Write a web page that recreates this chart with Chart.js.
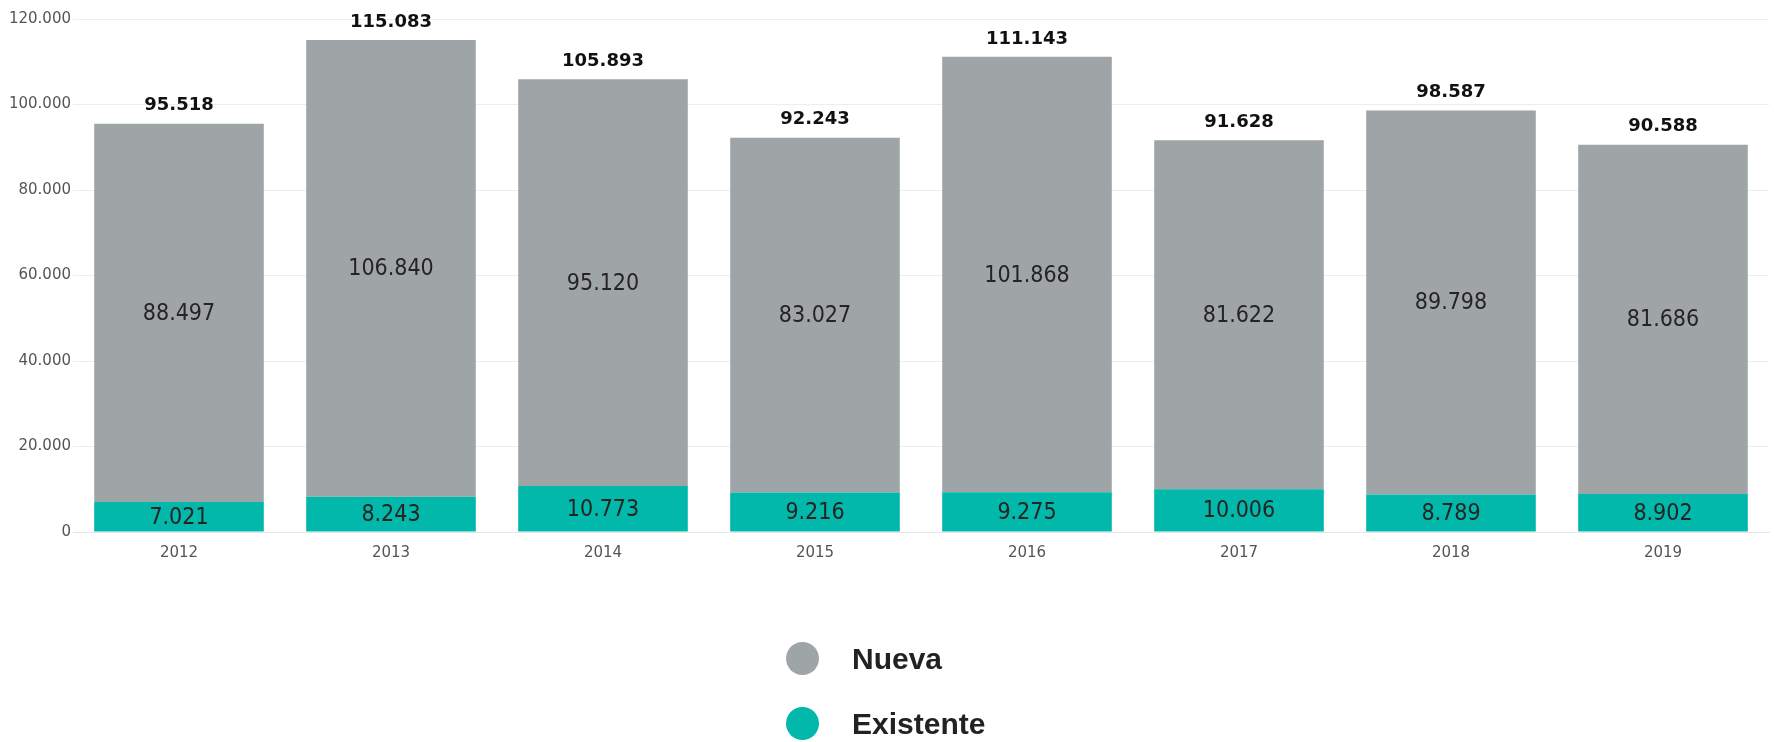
<!DOCTYPE html>
<html>
<head>
<meta charset="utf-8">
<script src="https://cdn.jsdelivr.net/npm/chart.js@4"></script>
<style>
  body { margin: 0; background: #fff; }
  #wrap { position: relative; width: 1774px; height: 742px; }
  #legend { position: absolute; left: 786px; top: 626px; font-family: "Liberation Sans", Arial, sans-serif; }
  .item { display: flex; align-items: center; height: 65px; }
  .dot { width: 33px; height: 33px; border-radius: 50%; margin-right: 33px; }
  .txt { font-weight: bold; font-size: 30px; color: #222; }
</style>
</head>
<body>
<div id="wrap">
  <canvas id="chart" width="1774" height="742"></canvas>
  <div id="legend"></div>
</div>
<script>
const years = ['2012', '2013', '2014', '2015', '2016', '2017', '2018', '2019']
const nueva = [88497, 106840, 95120, 83027, 101868, 81622, 89798, 81686]
const existente = [7021, 8243, 10773, 9216, 9275, 10006, 8789, 8902]
const totals = [95518, 115083, 105893, 92243, 111143, 91628, 98587, 90588]
const yTicks = [0, 20000, 40000, 60000, 80000, 100000, 120000]

const COLORS = {
    gray: '#9fa5a6',
    teal: '#01b8aa'
}

function fmt(n) {
    return String(n).replace(/\B(?=(\d{3})+(?!\d))/g, '.')
}

// draws the segment values and the totals above each bar
const valueLabels = {
    id: 'valueLabels',
    afterDatasetsDraw(chart) {
        const ctx = chart.ctx
        ctx.save()
        ctx.textAlign = 'center'
        chart.data.datasets.forEach((ds, i) => {
            const meta = chart.getDatasetMeta(i)
            meta.data.forEach((bar, j) => {
                ctx.fillStyle = '#252423'
                ctx.font = '23px "DejaVu Sans Condensed", "DejaVu Sans", sans-serif'
                ctx.textBaseline = 'middle'
                ctx.fillText(fmt(ds.data[j]), bar.x, (bar.y + bar.base) / 2 + 1)
            })
        })
        // totals go above the top segment (Nueva)
        const top = chart.getDatasetMeta(1)
        top.data.forEach((bar, j) => {
            ctx.fillStyle = '#111'
            ctx.font = 'bold 18px "DejaVu Sans", sans-serif'
            ctx.textBaseline = 'bottom'
            ctx.fillText(fmt(totals[j]), bar.x, bar.y - 9)
        })
        ctx.restore()
    }
}

const context = document.getElementById('chart')
const data = {
    labels: years,
    datasets: [
        {
            label: 'Existente',
            data: existente,
            backgroundColor: COLORS.teal
        },
        {
            label: 'Nueva',
            data: nueva,
            backgroundColor: COLORS.gray
        }
    ]
}

const config = {
    type: 'bar',
    data: data,
    options: {
        responsive: false,
        animation: false,
        layout: {
            padding: { top: 19, left: 0, right: 5, bottom: 170 }
        },
        categoryPercentage: 0.8,
        barPercentage: 1,
        plugins: {
            legend: { display: false },
            tooltip: { enabled: false }
        },
        scales: {
            x: {
                stacked: true,
                grid: { display: false, drawTicks: false },
                border: { color: '#e6e6e6' },
                ticks: {
                    color: '#555',
                    padding: 12,
                    font: { family: '"DejaVu Sans", sans-serif', size: 15 }
                },
                afterFit: scale => { scale.height = 40 }
            },
            y: {
                stacked: true,
                min: 0,
                max: 120000,
                afterBuildTicks: scale => { scale.ticks = yTicks.map(v => ({ value: v })) },
                grid: { color: '#ededed', drawTicks: false },
                border: { display: false },
                ticks: {
                    color: '#555',
                    padding: 2,
                    font: { family: '"DejaVu Sans", sans-serif', size: 15 },
                    callback: v => fmt(v)
                },
                afterFit: scale => { scale.width = 73 }
            }
        }
    },
    plugins: [valueLabels]
}
const chart = new Chart(context, config)

// legend: Nueva first, then Existente
const legend = document.getElementById('legend')
;[data.datasets[1], data.datasets[0]].forEach(ds => {
    const row = document.createElement('div')
    row.className = 'item'
    row.innerHTML = '<span class="dot" style="background:' + ds.backgroundColor + '"></span><span class="txt">' + ds.label + '</span>'
    legend.appendChild(row)
})
</script>
</body>
</html>
